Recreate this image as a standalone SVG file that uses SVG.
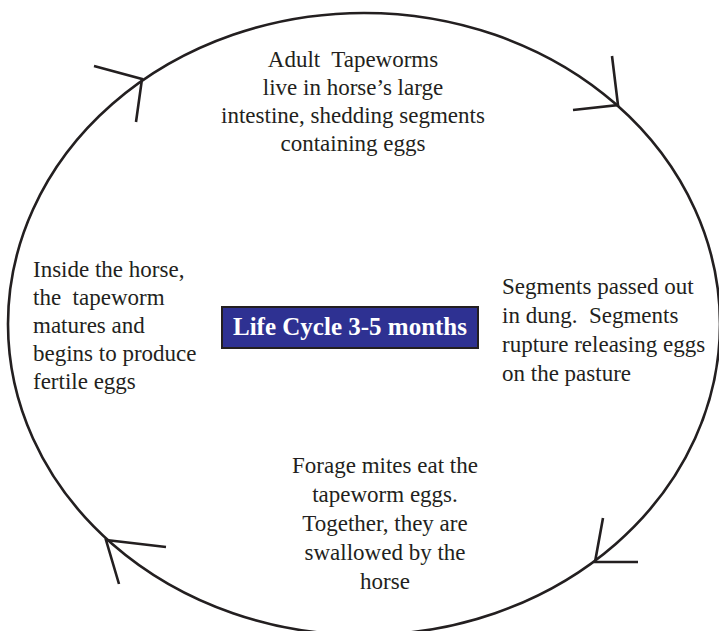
<svg xmlns="http://www.w3.org/2000/svg" width="719" height="631" viewBox="0 0 719 631">
  <style>
    .t { font-family: "Liberation Serif", "Times New Roman", serif; font-size: 23px; fill: #231f20; }
    .c { text-anchor: middle; }
    .ln { fill: none; stroke: #231f20; stroke-width: 2.6; stroke-linecap: butt; stroke-linejoin: miter; }
    .title { font-family: "Liberation Serif", "Times New Roman", serif; font-size: 25px; font-weight: bold; fill: #ffffff; text-anchor: middle; }
  </style>
  <rect width="719" height="631" fill="#ffffff"/>
  <g id="connectors">
    <ellipse class="ln" cx="364" cy="324" rx="356" ry="311"/>
    <polyline class="ln" points="94,66 142,79 136,122"/>
    <polyline class="ln" points="612,56 618,105 573,110"/>
    <polyline class="ln" points="603,518 595,562 638,562"/>
    <polyline class="ln" points="166,547 106,540 119,584"/>
  </g>
  <g id="node-adult">
    <text class="t c" x="353" y="67" xml:space="preserve">Adult  Tapeworms</text>
    <text class="t c" x="353" y="95">live in horse’s large</text>
    <text class="t c" x="353" y="123">intestine, shedding segments</text>
    <text class="t c" x="353" y="151">containing eggs</text>
  </g>
  <g id="node-inside">
    <text class="t" x="33" y="277">Inside the horse,</text>
    <text class="t" x="33" y="305" xml:space="preserve">the  tapeworm</text>
    <text class="t" x="33" y="333">matures and</text>
    <text class="t" x="33" y="361">begins to produce</text>
    <text class="t" x="33" y="389">fertile eggs</text>
  </g>
  <g id="node-segments">
    <text class="t" x="502" y="294">Segments passed out</text>
    <text class="t" x="502" y="323" xml:space="preserve">in dung.  Segments</text>
    <text class="t" x="502" y="352">rupture releasing eggs</text>
    <text class="t" x="502" y="381">on the pasture</text>
  </g>
  <g id="node-mites">
    <text class="t c" x="385" y="473">Forage mites eat the</text>
    <text class="t c" x="385" y="502">tapeworm eggs.</text>
    <text class="t c" x="385" y="531">Together, they are</text>
    <text class="t c" x="385" y="560">swallowed by the</text>
    <text class="t c" x="385" y="589">horse</text>
  </g>
  <g id="node-title">
    <rect x="222" y="307" width="256" height="41" fill="#2e3192" stroke="#231f20" stroke-width="2"/>
    <text class="title" x="350" y="335">Life Cycle 3-5 months</text>
  </g>
</svg>
